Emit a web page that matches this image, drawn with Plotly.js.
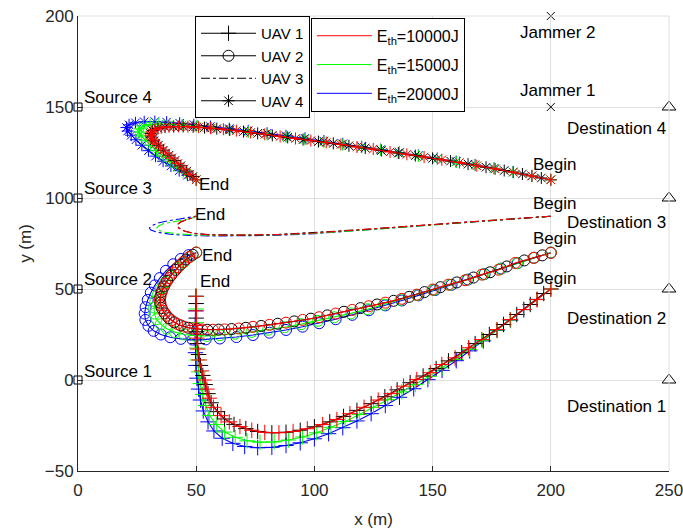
<!DOCTYPE html>
<html><head><meta charset="utf-8">
<script src="https://cdn.plot.ly/plotly-3.0.1.min.js"></script>
<style>html,body{margin:0;padding:0;background:#fff}#plot{width:683px;height:532px}</style>
</head><body><div id="plot"></div>
<script>
// ---------- UAV 1 (plus markers) ----------
const uav1RedX = [200,194.1,188.5,182.8,177.2,170.8,165.2,159.5,153.9,149,143.3,137.7,132.5,127,121,115,109.5,103.5,97,91,85,79,73.5,68.5,64,60.5,57.3,55.5,54.5,53.3,52.3,51.3,50.7,50.3,50.1,50,50];
const uav1RedY = [50,44.2,38.7,33.2,27.7,22.2,17.7,12.2,8.5,4,0.3,-3.4,-7.5,-11,-15,-18.5,-21.7,-24.5,-26.8,-28.3,-29,-28.8,-27.6,-25.6,-23,-19.6,-15,-10,-5,0,5,11,17,23,30,38,46];
const uav1BlackX = [197,191.3,185.6,180,174,168,162.3,156.7,151.5,146,140.5,135,129.8,124,118,112.3,106.5,100,94,88,82,76,71,66,62,59,56.3,55,53.8,52.8,51.8,51,50.5,50.2,50,50];
const uav1BlackY = [47.5,41.5,36,30.5,25,20,15,10.5,6.3,2.2,-1.5,-5.4,-9.2,-13,-16.7,-20,-23,-25.7,-27.6,-28.7,-29,-28.3,-26.7,-24.4,-21.4,-17.4,-12.5,-7.5,-2.5,2.5,8,14,20,26.5,34,42];
const uav1GreenX = [200,194.2,188.5,182.9,177.2,171.2,165.5,159.7,154,148.5,142.7,137,131,125,119,113,107,101,95,89,83,77,71.5,66.5,62,58.5,55.7,54,52.7,51.7,51,50.5,50.2,50,50,50,50];
const uav1GreenY = [50,44.2,38.7,33,27.4,21.8,16.8,11.3,6.7,2,-2.5,-6.5,-10.8,-15,-19,-22.8,-26,-29,-31.3,-33,-34,-34.2,-33.4,-31.5,-28.6,-24.5,-19.5,-14,-8,-2,4.5,11,17.5,24.5,31.5,39,46];
const uav1BlueX = [200,194.3,188.6,183,177.3,171.5,165.7,160,154,148,142,136,130,124,118,112,106,100,94,88,82,76,70.5,65.5,61,57.5,55,53,51.8,51,50.3,49.9,49.7,49.6,49.6,49.7,49.8];
const uav1BlueY = [50,44.3,38.7,32.9,27.2,21.5,16,10.6,5.3,0.2,-4.8,-9.5,-14,-18.5,-22.5,-26.2,-29.5,-32.3,-34.5,-36,-37,-37.2,-36.5,-34.8,-32,-28,-23,-17,-11,-5,1,8,15,22,30,38,46];

// ---------- UAV 2 (circle markers) ----------
const uav2RedX = [200,192.7,184.9,177.9,170.8,163.8,156.7,150,143.3,137,130,123,116,109,102,95,88,81,74,68,62,57,52.5,48.5,45,42,39.5,37.5,36,35,34.7,35,35.8,37,38.5,40.3,42.3,44.5,47,50];
const uav2RedY = [69.8,67.1,64.3,60.6,57.9,54.8,52.4,49.7,46.9,44.6,42.5,40.5,38.5,36.5,34.5,33,31.5,30.3,29.2,28.3,27.8,27.6,27.8,28.3,29.3,30.8,32.8,35.3,38,41,44,47,50,53,56,59,62,64.8,67.5,70];
const uav2BlackX = [196.4,188.8,181.4,174.3,167.3,160.2,153.3,146.6,140.1,133.5,126.5,119.5,112.5,105.5,98.5,91.5,84.5,77.5,71,65,59.5,54.7,50.5,46.7,43.4,40.7,38.4,36.7,35.4,34.8,34.8,35.4,36.4,37.7,39.4,41.3,43.4,45.7,48.5];
const uav2BlackY = [68.5,65.7,62.4,59.2,56.3,53.6,51,48.3,45.7,43.5,41.5,39.5,37.5,35.5,33.7,32.2,30.9,29.7,28.7,28,27.7,27.6,28,28.7,30,31.7,34,36.6,39.5,42.5,45.5,48.5,51.5,54.5,57.5,60.5,63.4,66.2,68.8];
const uav2GreenX = [200,192.9,185.7,178.6,171.5,164.4,157.4,150.4,143.4,136.4,129.4,122.4,115.4,108.4,101.4,94.4,87.4,80.4,73.4,66.4,60,54.5,49.5,45,41,37.6,35,33.2,32.3,32.2,32.7,33.7,35.1,37,39.3,42,44.8,47.5,50];
const uav2GreenY = [70,67.1,64.2,61,58,55,52.3,49.5,46.7,44,41.4,38.9,36.6,34.5,32.5,30.7,29,27.6,26.4,25.4,24.6,24.2,24.3,25,26.3,28.2,30.6,33.4,36.5,39.8,43.2,46.7,50.2,53.8,57.6,61.4,64.8,67.7,70];
const uav2BlueX = [200,193,186,179,172,165,158,151,144,137,130,123,116,109,102,95,88,81,74,67,60,54,48.5,43.5,39,35,32,29.8,28.5,28.2,28.6,29.5,30.8,32.5,34.6,37.2,40.3,43.5,46.8,50];
const uav2BlueY = [70,67.2,64.2,61.2,58.2,55.2,52.3,49.4,46.5,43.7,41,38.3,35.8,33.4,31.2,29.3,27.5,26,24.7,23.6,22.8,22.3,22.2,22.6,23.5,25,27,29.8,33,36.5,40,44,48,52,56,60,63.6,66.5,68.6,70];

// ---------- UAV 3 (dash-dot, no markers) ----------
const uav3RedX = [200,180,160,140,120,100,85,72,62,55,49,45,42.5,42,43.3,45.5,48,50];
const uav3RedY = [90,88.2,86.3,84.4,82.5,80.8,79.9,79.5,79.5,79.8,80.5,81.8,83.5,85.3,86.8,87.8,88.8,90];
const uav3BlackX = [200,180,160,140,120,100,85,72,62,55,49,45,42.6,42.1,43.4,45.6,48,50];
const uav3BlackY = [90,88.3,86.4,84.5,82.6,80.9,80,79.6,79.6,79.9,80.6,81.9,83.6,85.3,86.8,87.9,88.9,90];
const uav3GreenX = [200,180,160,140,120,100,85,72,60,50,42,37,34,33.3,34.2,36.5,40,44,47.5,50];
const uav3GreenY = [90,88.2,86.2,84.2,82.3,80.6,79.8,79.4,79.4,79.7,80.3,81.2,82.3,83.5,84.8,86,87,87.8,88.6,90];
const uav3BlueX = [200,180,160,140,120,100,85,70,57,47,39,33.5,30.8,30.2,31.2,33.8,38,43,47,50];
const uav3BlueY = [90,88.1,86.1,84.1,82.1,80.4,79.5,79.1,79.1,79.4,80.1,81.2,82.4,83.5,84.8,86.2,87.5,88.5,89.3,90];

// ---------- UAV 4 (asterisk markers) ----------
const uav4RedX = [200,192,184.2,176.5,168.7,161.4,153.9,146.4,139.1,132,124.9,118,111.2,105,98.5,92,85.5,79,73,67,61.5,56,51,46.5,42.5,38.5,35.2,32.5,31,30.7,31.5,33,35,37.2,39.7,42.3,44.8,47.3,50];
const uav4RedY = [110,112.1,114.2,116,117.7,119.5,121,122.5,124,125.3,126.9,128,129.4,130.5,131.5,132.7,133.8,135,136,137,137.8,138.4,138.9,139.2,139.3,139.1,138.6,137.6,136.2,134.5,132.4,130.2,127.6,124.8,122,119,116,113,110];
const uav4BlackX = [196,188,180.3,172.6,165,157.6,150,142.7,135.5,128.4,121.5,114.6,108,101.7,95.2,88.7,82.2,76,70,64.2,58.7,53.5,48.7,44.5,40.5,36.8,33.8,31.6,30.7,31,32.2,34,36.1,38.5,41,43.5,46,48.6];
const uav4BlackY = [111,113.2,115.1,116.9,118.6,120.3,121.8,123.3,124.7,126.1,127.5,128.7,130,131,132.1,133.3,134.4,135.5,136.5,137.4,138.1,138.7,139.1,139.3,139.2,138.9,138.2,137,135.4,133.5,131.4,129,126.3,123.5,120.6,117.7,114.8,111.8];
const uav4GreenX = [200,192,184,176,168,160,152,144,136,128,120,112,104,96,88,80,72,64,56.5,50,44,38.8,34.2,30.5,27.6,26,25.8,26.8,28.5,30.7,33.2,36,39,42.3,46,50];
const uav4GreenY = [110,112.1,114.2,116.2,118,119.8,121.5,123.1,124.7,126.3,127.8,129.3,130.8,132.2,133.6,134.9,136.2,137.4,138.5,139.4,140.1,140.6,140.7,140.4,139.5,138,136.2,134.1,131.7,129,126,123,120,117,113.6,110];
const uav4BlueX = [200,192,184,176,168,160,152,144,136,128,120,112,104,96,88,80,72,64,56,49,43,37.5,32.5,28,24.3,21.6,20.5,21,22.5,24.5,27,29.8,32.8,36,39.3,42.8,46.3,50];
const uav4BlueY = [110,112.2,114.3,116.3,118.2,120,121.7,123.4,125,126.6,128.2,129.8,131.3,132.8,134.2,135.6,136.9,138.1,139.3,140.3,141.1,141.7,142,141.9,141.3,140.2,138.7,136.8,134.5,132,129,126,123,120.2,117.6,115,112.5,110];

// ---------- landmarks & labels ----------
const sourceX = [0,0,0,0];
const sourceY = [0,50,100,150];
const sourceLabels = ["Source 1","Source 2","Source 3","Source 4"];
const sourceLabelY = [4.6,55.2,105,155];
const destX = [250,250,250,250];
const destY = [0,50,100,150];
const destLabels = ["Destination 1","Destination 2","Destination 3","Destination 4"];
const destLabelY = [-14.4,33.7,86.6,138];
const jammerX = [200,200];
const jammerY = [150,200];
const jammerLabels = ["Jammer 1","Jammer 2"];
const jammerLabelY = [158.9,191.2];
const beginLabelY = [55.5,78,96.9,118.3];
const endLabelX = [50.9,51.6,48.8,50.2];
const endLabelY = [54.2,68.6,90.8,107.3];
const energyLabels = ["E<sub>th</sub>=10000J","E<sub>th</sub>=15000J","E<sub>th</sub>=20000J"];
const xTicks = [0,50,100,150,200,250];
const yTicks = [-50,0,50,100,150,200];

const RED = '#ff0000', GREEN = '#00ff00', BLUE = '#0000ff', BLACK = '#000000';
const FONT = 'Liberation Sans, Arial, Helvetica, sans-serif';

const uavs = [
  {name:'UAV 1', sym:'cross-thin-open', size:11, dash:'solid',
   red:[uav1RedX,uav1RedY], green:[uav1GreenX,uav1GreenY], blue:[uav1BlueX,uav1BlueY], black:[uav1BlackX,uav1BlackY]},
  {name:'UAV 2', sym:'circle-open', size:11, dash:'solid',
   red:[uav2RedX,uav2RedY], green:[uav2GreenX,uav2GreenY], blue:[uav2BlueX,uav2BlueY], black:[uav2BlackX,uav2BlackY]},
  {name:'UAV 3', sym:null, size:0, dash:'dashdot',
   red:[uav3RedX,uav3RedY], green:[uav3GreenX,uav3GreenY], blue:[uav3BlueX,uav3BlueY], black:[uav3BlackX,uav3BlackY]},
  {name:'UAV 4', sym:'asterisk-open', size:10, dash:'solid',
   red:[uav4RedX,uav4RedY], green:[uav4GreenX,uav4GreenY], blue:[uav4BlueX,uav4BlueY], black:[uav4BlackX,uav4BlackY]}
];

const traces = [];
function mk(u, key, color, legendOn) {
  const t = {
    type:'scatter', x:u[key][0], y:u[key][1], name:u.name,
    mode: u.sym ? 'lines+markers' : 'lines',
    line:{color:color, width:1.1, dash:u.dash},
    showlegend: legendOn, legend:'legend', hoverinfo:'skip'
  };
  if (u.sym) t.marker = {symbol:u.sym, size:u.size, color:color, line:{color:color, width:1}};
  return t;
}
// draw order: blue, green, black, red
uavs.forEach(u => traces.push(mk(u,'blue',BLUE,false)));
uavs.forEach(u => traces.push(mk(u,'green',GREEN,false)));
uavs.forEach(u => traces.push(mk(u,'black',BLACK,true)));
uavs.forEach(u => traces.push(mk(u,'red',RED,false)));

// energy legend entries
[RED,GREEN,BLUE].forEach((c,i) => traces.push({
  type:'scatter', x:[null], y:[null], mode:'lines', name:energyLabels[i],
  line:{color:c, width:1}, legend:'legend2', legendgroup:'e'+i, showlegend:true, hoverinfo:'skip'
}));

// landmarks
traces.push({type:'scatter', x:sourceX, y:sourceY, mode:'markers', showlegend:false, cliponaxis:false,
  marker:{symbol:'square-open', size:8, color:BLACK, line:{width:1,color:BLACK}}, hoverinfo:'skip'});
traces.push({type:'scatter', x:destX, y:destY, mode:'markers', showlegend:false, cliponaxis:false,
  marker:{symbol:'triangle-up-open', size:12, color:BLACK, line:{width:1,color:BLACK}}, hoverinfo:'skip'});
traces.push({type:'scatter', x:jammerX, y:jammerY, mode:'markers', showlegend:false, cliponaxis:false,
  marker:{symbol:'x-thin-open', size:8, color:BLACK, line:{width:1,color:BLACK}}, hoverinfo:'skip'});

const ann = [];
const tf = {family:FONT, size:17, color:'#000'};
function lab(x,y,t){ ann.push({x:x,y:y,xref:'x',yref:'y',text:t,showarrow:false,xanchor:'left',yanchor:'middle',font:tf}); }
sourceLabels.forEach((t,i)=>lab(1.5, sourceLabelY[i], t));
destLabels.forEach((t,i)=>lab(206, destLabelY[i], t));
jammerLabels.forEach((t,i)=>lab(186, jammerLabelY[i], t));
beginLabelY.forEach(y=>lab(191.5, y, 'Begin'));
endLabelY.forEach((y,i)=>lab(endLabelX[i], y, 'End'));

const axCommon = {
  showgrid:true, gridcolor:'#dfdfdf', gridwidth:1, zeroline:false,
  showline:true, linecolor:'#262626', linewidth:1,
  ticks:'inside', ticklen:5, tickcolor:'#262626', tickwidth:1,
  ticklabeloverflow:'allow',
  tickfont:{family:FONT, size:17, color:'#262626'}
};
const layout = {
  width:683, height:532,
  margin:{l:78, r:14, t:16, b:61},
  paper_bgcolor:'#fff', plot_bgcolor:'#fff',
  font:{family:FONT, color:'#000'},
  xaxis: Object.assign({}, axCommon, {range:[0,250], tickvals:xTicks, ticklabelstandoff:4,
     title:{text:'x (m)', font:{family:FONT,size:17,color:'#262626'}, standoff:13}}),
  yaxis: Object.assign({}, axCommon, {range:[-50,200], tickvals:yTicks,
     title:{text:'y (m)', font:{family:FONT,size:17,color:'#262626'}, standoff:8}}),
  legend:{x:0.198, y:1.0, xanchor:'left', yanchor:'top', bgcolor:'#fff', bordercolor:'#000', borderwidth:1,
     font:{family:FONT, size:15, color:'#000'}, tracegroupgap:0, itemwidth:55, itemclick:false},
  legend2:{x:0.394, y:0.996, xanchor:'left', yanchor:'top', bgcolor:'#fff', bordercolor:'#000', borderwidth:1,
     font:{family:FONT, size:16, color:'#000'}, tracegroupgap:5, itemwidth:55, itemclick:false},
  annotations: ann,
  shapes:[
    {type:'line', xref:'paper', yref:'paper', x0:0, x1:1, y0:1, y1:1, line:{color:'#dfdfdf', width:1}},
    {type:'line', xref:'paper', yref:'paper', x0:1, x1:1, y0:0, y1:1, line:{color:'#dfdfdf', width:1}}
  ]
};
Plotly.newPlot('plot', traces, layout, {displayModeBar:false, staticPlot:true});
</script>
</body></html>
